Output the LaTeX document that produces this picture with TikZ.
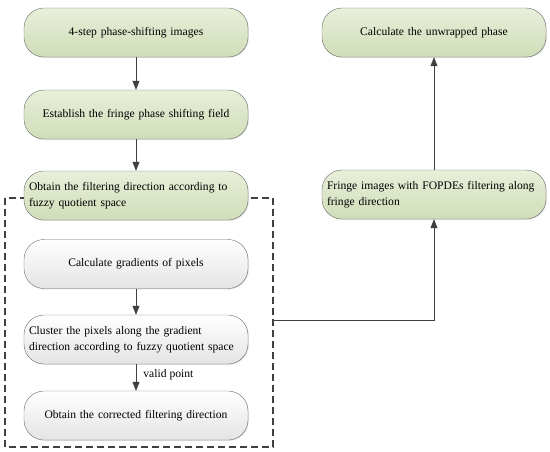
\documentclass[tikz,border=0pt]{standalone}
\usepackage{fontspec}
\setmainfont{Liberation Serif}
\usetikzlibrary{arrows.meta,shadows}
\hyphenpenalty=10000
\definecolor{stagetop}{RGB}{232,239,218}
\definecolor{stagebot}{RGB}{208,221,184}
\definecolor{subbot}{RGB}{228,228,228}
\definecolor{edge}{RGB}{110,110,110}
\definecolor{flow}{RGB}{64,64,64}
\tikzset{
  stage/.style={draw=edge, rounded corners=20pt, minimum width=224pt, minimum height=49pt,
    text width=214pt, align=center, top color=stagetop, bottom color=stagebot,
    drop shadow={shadow xshift=0.8pt, shadow yshift=-0.8pt, opacity=0.25}},
  substage/.style={stage, top color=white, bottom color=subbot},
  flush/.style={align=left},
  flowline/.style={draw=flow, line width=0.8pt, -{Triangle[width=7pt,length=9pt]}},
}
\begin{document}
\begin{tikzpicture}[x=1pt, y=1pt, every node/.style={inner sep=1pt, font=\fontsize{11.6}{15.5}\selectfont}]
  \useasboundingbox (0,0) rectangle (550,-451);
  % dashed frame round the direction step
  \draw[flow, line width=1.1pt, dash pattern=on 7pt off 4pt] (5,-198) rectangle (273,-447);
  \coordinate (tap) at (273,-320);
  % left column
  \node[stage] (imgs) at (136,-32.5) {4-step phase-shifting images};
  \node[stage] (field) at (136,-114.5) {Establish the fringe phase shifting field};
  \node[stage, flush] (dir) at (136,-195.5) {Obtain the filtering direction according to\\fuzzy quotient space};
  \node[substage] (grad) at (136,-264) {Calculate gradients of pixels};
  \node[substage, flush] (clus) at (136,-339.5) {Cluster the pixels along the gradient\\direction according to fuzzy quotient space};
  \node[substage] (corr) at (136,-415.5) {Obtain the corrected filtering direction};
  % right column
  \node[stage] (unwrap) at (434,-32.5) {Calculate the unwrapped phase};
  \node[stage, flush] (fopde) at (434,-194.5) {Fringe images with FOPDEs filtering along\\fringe direction};
  \draw[flowline] (imgs) -- (field);
  \draw[flowline] (field) -- (dir);
  \draw[flowline] (grad) -- (clus);
  \draw[flowline] (clus) -- node[right=6pt, pos=0.4] (valid) {valid point} (corr);
  \draw[flowline] (tap) -| (fopde);
  \draw[flowline] (fopde) -- (unwrap);
\end{tikzpicture}
\end{document}
